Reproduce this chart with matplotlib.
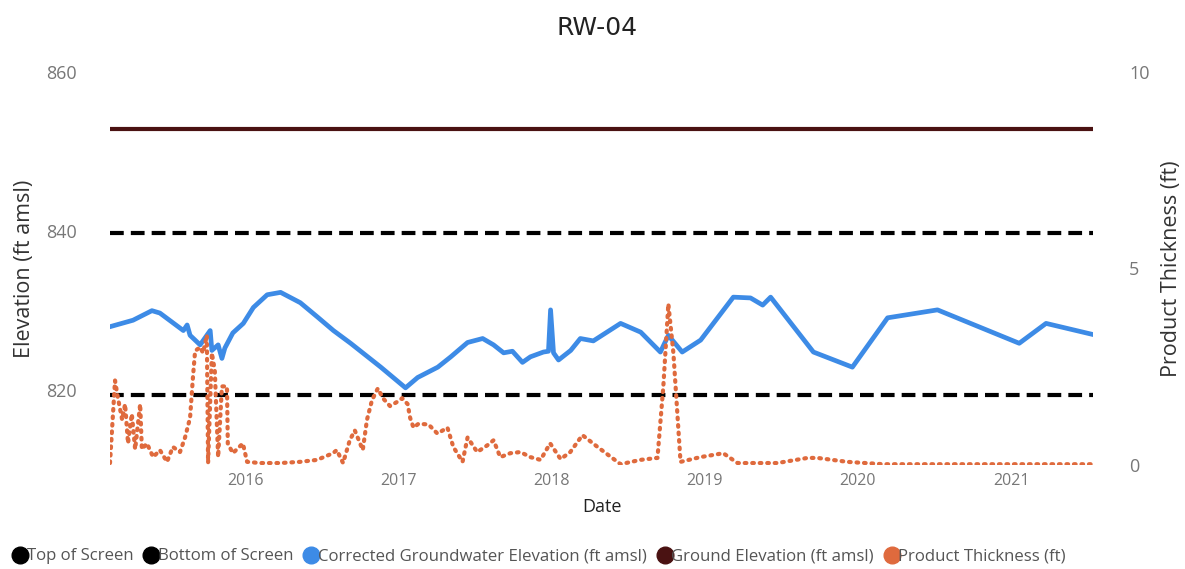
import matplotlib
matplotlib.use("Agg")
import matplotlib.pyplot as plt
import matplotlib.dates as mdates
from matplotlib.lines import Line2D
import pandas as pd

# screen / ground levels (ft amsl)
top_of_screen = 839.7
bottom_of_screen = 819.4
ground_elevation = 852.8

# corrected groundwater elevation (ft amsl)
gw_dates = ['2015-02-13', '2015-04-08', '2015-05-23', '2015-06-11', '2015-08-06', '2015-08-15',
            '2015-08-22', '2015-09-15', '2015-10-09', '2015-10-13', '2015-10-28', '2015-11-06',
            '2015-11-13', '2015-12-02', '2015-12-27', '2016-01-20', '2016-02-22', '2016-03-25',
            '2016-05-11', '2016-06-21', '2016-07-29', '2016-09-08', '2016-11-19', '2017-01-17',
            '2017-02-15', '2017-04-04', '2017-05-05', '2017-06-14', '2017-07-20', '2017-08-15',
            '2017-09-08', '2017-09-29', '2017-10-23', '2017-11-11', '2017-12-12', '2017-12-24',
            '2017-12-29', '2018-01-05', '2018-01-17', '2018-02-15', '2018-03-10', '2018-04-10',
            '2018-06-14', '2018-08-01', '2018-09-17', '2018-10-06', '2018-11-08', '2018-12-22',
            '2019-03-10', '2019-04-20', '2019-05-19', '2019-06-07', '2019-09-17', '2019-12-19',
            '2020-03-12', '2020-07-09', '2021-01-20', '2021-03-25', '2021-07-15']
gw_elev = [828.0, 828.8, 830.0, 829.7, 827.5, 828.2,
           826.9, 825.7, 827.5, 825.0, 825.7, 824.0,
           825.3, 827.2, 828.4, 830.4, 832.0, 832.3,
           831.0, 829.2, 827.5, 825.9, 822.9, 820.3,
           821.6, 822.9, 824.2, 826.0, 826.5, 825.7,
           824.7, 824.9, 823.5, 824.2, 824.8, 824.9,
           830.1, 824.7, 823.8, 825.0, 826.5, 826.2,
           828.4, 827.3, 824.8, 826.9, 824.8, 826.3,
           831.7, 831.6, 830.7, 831.7, 824.8, 822.9,
           829.1, 830.1, 825.9, 828.4, 827.0]

# product thickness (ft)
pt_dates = ['2015-02-12', '2015-02-24', '2015-03-03', '2015-03-13', '2015-03-20', '2015-03-27',
            '2015-04-05', '2015-04-13', '2015-04-25', '2015-04-29', '2015-05-11', '2015-05-26',
            '2015-06-11', '2015-06-28', '2015-07-12', '2015-07-29', '2015-08-10', '2015-08-22',
            '2015-08-29', '2015-09-03', '2015-09-15', '2015-09-22', '2015-10-01', '2015-10-04',
            '2015-10-13', '2015-10-20', '2015-10-28', '2015-11-06', '2015-11-18', '2015-11-20',
            '2015-12-02', '2015-12-26', '2016-01-05', '2016-02-05', '2016-03-24', '2016-05-10',
            '2016-06-20', '2016-07-28', '2016-08-06', '2016-08-21', '2016-09-06', '2016-09-18',
            '2016-10-07', '2016-10-17', '2016-10-29', '2016-11-12', '2016-11-24', '2016-12-11',
            '2016-12-27', '2017-01-09', '2017-01-22', '2017-01-28', '2017-02-05', '2017-02-17',
            '2017-03-13', '2017-04-03', '2017-04-27', '2017-05-11', '2017-06-02', '2017-06-14',
            '2017-07-07', '2017-07-31', '2017-08-15', '2017-08-31', '2017-09-24', '2017-10-18',
            '2017-11-11', '2017-12-05', '2017-12-28', '2018-01-22', '2018-02-14', '2018-03-15',
            '2018-04-20', '2018-06-14', '2018-07-31', '2018-09-10', '2018-09-24', '2018-10-06',
            '2018-10-18', '2018-11-04', '2018-12-21', '2019-02-14', '2019-03-20', '2019-06-23',
            '2019-09-03', '2019-09-27', '2019-12-07', '2020-03-02', '2020-08-10', '2021-07-15']
pt_thick = [0.05, 2.15, 1.7, 1.15, 1.55, 0.55,
            1.3, 0.4, 1.55, 0.4, 0.55, 0.2,
            0.38, 0.08, 0.46, 0.33, 0.7, 1.2,
            2.25, 2.9, 3.0, 2.85, 3.3, 0.05,
            2.85, 2.4, 0.2, 2.0, 2.0, 0.55,
            0.3, 0.55, 0.08, 0.05, 0.05, 0.08,
            0.13, 0.3, 0.38, 0.05, 0.63, 0.88,
            0.38, 1.15, 1.65, 1.95, 1.7, 1.5,
            1.6, 1.7, 1.55, 1.2, 0.95, 1.05,
            1.03, 0.8, 0.95, 0.46, 0.08, 0.7,
            0.33, 0.5, 0.63, 0.2, 0.3, 0.33,
            0.2, 0.13, 0.55, 0.15, 0.33, 0.76,
            0.46, 0.02, 0.13, 0.18, 2.0, 4.1,
            2.85, 0.08, 0.2, 0.3, 0.05, 0.05,
            0.18, 0.18, 0.08, 0.02, 0.02, 0.02]

years = [2016, 2017, 2018, 2019, 2020, 2021]

blue = '#3D8BE6'
orange = '#DF6A3D'
maroon = '#4A1212'
grey = '#777777'

plt.rcParams['font.family'] = ['Open Sans', 'DejaVu Sans']

gw_x = pd.to_datetime(gw_dates)
pt_x = pd.to_datetime(pt_dates)
x0, x1 = pd.Timestamp('2015-02-12'), pd.Timestamp('2021-07-15')

fig = plt.figure(figsize=(11.85, 5.69), dpi=100)
ax = fig.add_axes([110 / 1185, 1 - 465 / 569, (1093 - 110) / 1185, (465 - 72) / 569])
ax2 = ax.twinx()

ax.plot([x0, x1], [ground_elevation] * 2, color=maroon, lw=3, solid_capstyle='butt')
ax.plot([x0, x1], [top_of_screen] * 2, color='black', lw=3, ls=(0, (3.3, 1.7)))
ax.plot([x0, x1], [bottom_of_screen] * 2, color='black', lw=3, ls=(0, (3.3, 1.7)))
ax.plot(gw_x, gw_elev, color=blue, lw=3.4, solid_joinstyle='round', zorder=4)
ax2.plot(pt_x, pt_thick, color=orange, lw=3.0, ls=(0, (0.4, 1.4)),
         dash_capstyle='round', zorder=3)

ax.set_ylim(810.6, 860)
ax.set_yticks([820, 840, 860])
ax2.set_ylim(0, 10)
ax2.set_yticks([0, 5, 10])
ax.set_xlim(x0, x1)
ax.set_xticks([pd.Timestamp(f'{y}-01-01') for y in years])
ax.xaxis.set_major_formatter(mdates.DateFormatter('%Y'))

for a in (ax, ax2):
    for s in a.spines.values():
        s.set_visible(False)
    a.tick_params(length=0, labelsize=13, colors=grey)
ax.tick_params(axis='y', pad=24)
ax2.tick_params(axis='y', pad=26)
ax.tick_params(axis='x', pad=6, labelsize=11.5)

ax.set_ylabel('Elevation (ft amsl)', fontsize=15.5, color='#333333', labelpad=8)
ax2.set_ylabel('Product Thickness (ft)', fontsize=15.5, color='#333333', labelpad=8)
ax.set_xlabel('Date', fontsize=13, color='#222222', labelpad=6)
fig.text(0.504, 0.951, 'RW-04', ha='center', va='center', fontsize=18,
         family='DejaVu Sans', color='#222222')

handles = [Line2D([], [], ls='', marker='o', ms=12, color=c)
           for c in ['black', 'black', blue, maroon, orange]]
labels = ['Top of Screen', 'Bottom of Screen', 'Corrected Groundwater Elevation (ft amsl)',
          'Ground Elevation (ft amsl)', 'Product Thickness (ft)']
fig.legend(handles, labels, loc='center left', bbox_to_anchor=(-0.004, 0.022), ncol=5,
           frameon=False, fontsize=12.1, handletextpad=-0.2, columnspacing=0.45,
           labelcolor='#555555', handlelength=1.2)

fig.savefig('out.png', dpi=100)
